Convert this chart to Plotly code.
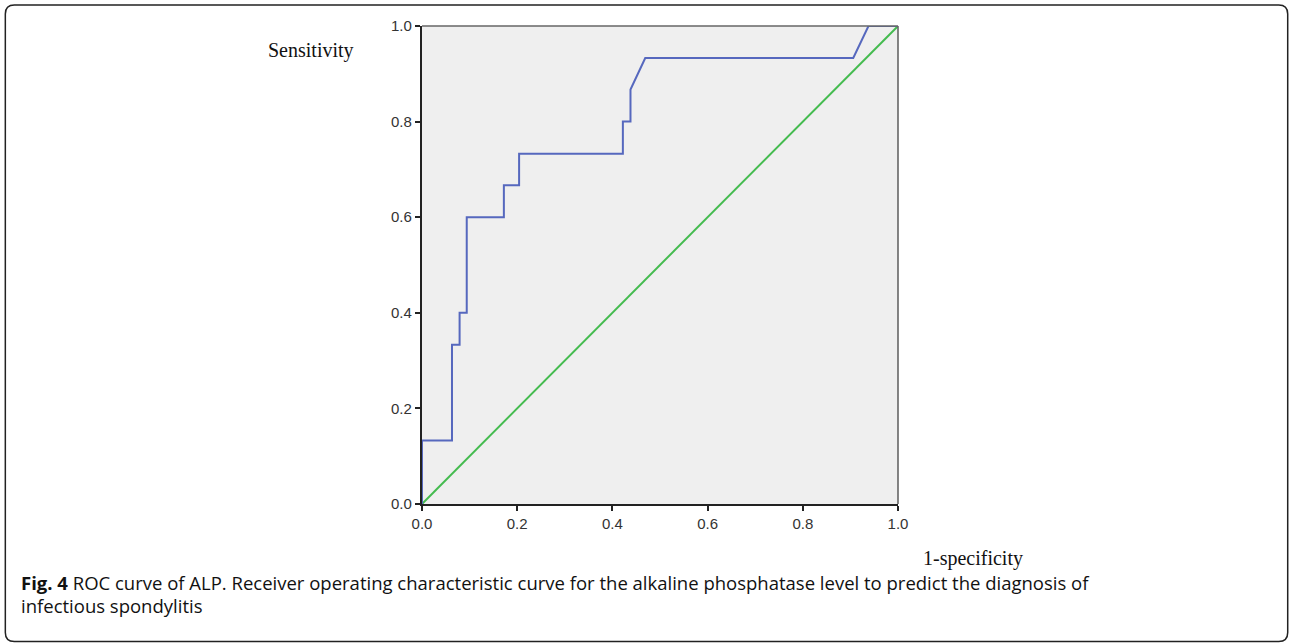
import plotly.graph_objects as go

# ROC curve (1-specificity, sensitivity)
roc_fpr = [0.0, 0.0, 0.063, 0.063, 0.079, 0.079, 0.094, 0.094, 0.172, 0.172, 0.204, 0.204,
           0.422, 0.422, 0.438, 0.438, 0.469, 0.906, 0.938, 1.0]
roc_tpr = [0.0, 0.133, 0.133, 0.333, 0.333, 0.400, 0.400, 0.600, 0.600, 0.667, 0.667, 0.733,
           0.733, 0.800, 0.800, 0.867, 0.933, 0.933, 1.0, 1.0]
ref_x = [0.0, 1.0]
ref_y = [0.0, 1.0]
tick_vals = [0.0, 0.2, 0.4, 0.6, 0.8, 1.0]
tick_text = ["0.0", "0.2", "0.4", "0.6", "0.8", "1.0"]

W, H = 1290, 644
L, R, T, B = 421.7, 898.3, 26.0, 504.3
pw, ph = R - L, B - T


def px(x):
    return (x - L) / pw


def py(y):
    return (B - y) / ph


fig = go.Figure()
fig.add_trace(go.Scatter(x=ref_x, y=ref_y, mode="lines",
                         line=dict(color="#44bb4f", width=2), cliponaxis=False,
                         showlegend=False, hoverinfo="skip"))
fig.add_trace(go.Scatter(x=roc_fpr, y=roc_tpr, mode="lines",
                         line=dict(color="#5668be", width=2), cliponaxis=False,
                         showlegend=False))

axis_common = dict(range=[0, 1], tickvals=tick_vals, ticktext=tick_text,
                   ticks="outside", ticklen=5, tickwidth=1.6, tickcolor="#222",
                   showline=True, linecolor="#222", linewidth=2.2, showgrid=False,
                   zeroline=False, tickfont=dict(family="Liberation Sans", size=15, color="#333"),
                   fixedrange=True)

fig.update_layout(
    width=W, height=H,
    margin=dict(l=L, r=W - R, t=T, b=H - B, autoexpand=False),
    paper_bgcolor="white", plot_bgcolor="#efefef",
    xaxis=dict(**axis_common),
    yaxis=dict(**axis_common),
    showlegend=False,
)

# grey border on top/right of plot
fig.add_shape(type="line", xref="paper", yref="paper", x0=0, y0=1, x1=1, y1=1,
              line=dict(color="#666", width=1.6), layer="above")
fig.add_shape(type="line", xref="paper", yref="paper", x0=1, y0=0, x1=1, y1=1,
              line=dict(color="#666", width=1.6), layer="above")

# rounded outer frame
fx0, fx1, fy0, fy1, rr = 4.5, 1288.5, 5.0, 642.0, 9.0
path = (f"M {px(fx0 + rr)},{py(fy0)} L {px(fx1 - rr)},{py(fy0)} "
        f"Q {px(fx1)},{py(fy0)} {px(fx1)},{py(fy0 + rr)} "
        f"L {px(fx1)},{py(fy1 - rr)} Q {px(fx1)},{py(fy1)} {px(fx1 - rr)},{py(fy1)} "
        f"L {px(fx0 + rr)},{py(fy1)} Q {px(fx0)},{py(fy1)} {px(fx0)},{py(fy1 - rr)} "
        f"L {px(fx0)},{py(fy0 + rr)} Q {px(fx0)},{py(fy0)} {px(fx0 + rr)},{py(fy0)} Z")
fig.add_shape(type="path", xref="paper", yref="paper", path=path,
              line=dict(color="#222", width=1.5), layer="above")

fig.add_annotation(text="Sensitivity", xref="paper", yref="paper", x=px(311), y=py(51),
                   showarrow=False, xanchor="center", yanchor="middle",
                   font=dict(family="Liberation Serif", size=20, color="#111"))
fig.add_annotation(text="1-specificity", xref="paper", yref="paper", x=px(973), y=py(559),
                   showarrow=False, xanchor="center", yanchor="middle",
                   font=dict(family="Liberation Serif", size=20, color="#111"))
fig.add_annotation(text="<b>Fig. 4</b> ROC curve of ALP. Receiver operating characteristic curve for the alkaline phosphatase level to predict the diagnosis of",
                   xref="paper", yref="paper", x=px(18), y=py(583),
                   showarrow=False, xanchor="left", yanchor="middle",
                   font=dict(family="Open Sans", size=18.5, color="#111"))
fig.add_annotation(text="infectious spondylitis",
                   xref="paper", yref="paper", x=px(18), y=py(606),
                   showarrow=False, xanchor="left", yanchor="middle",
                   font=dict(family="Open Sans", size=18.5, color="#111"))

fig.write_html("out.html", config={"displayModeBar": False},
               post_script="document.body.style.margin='0';document.body.style.overflow='hidden';")
